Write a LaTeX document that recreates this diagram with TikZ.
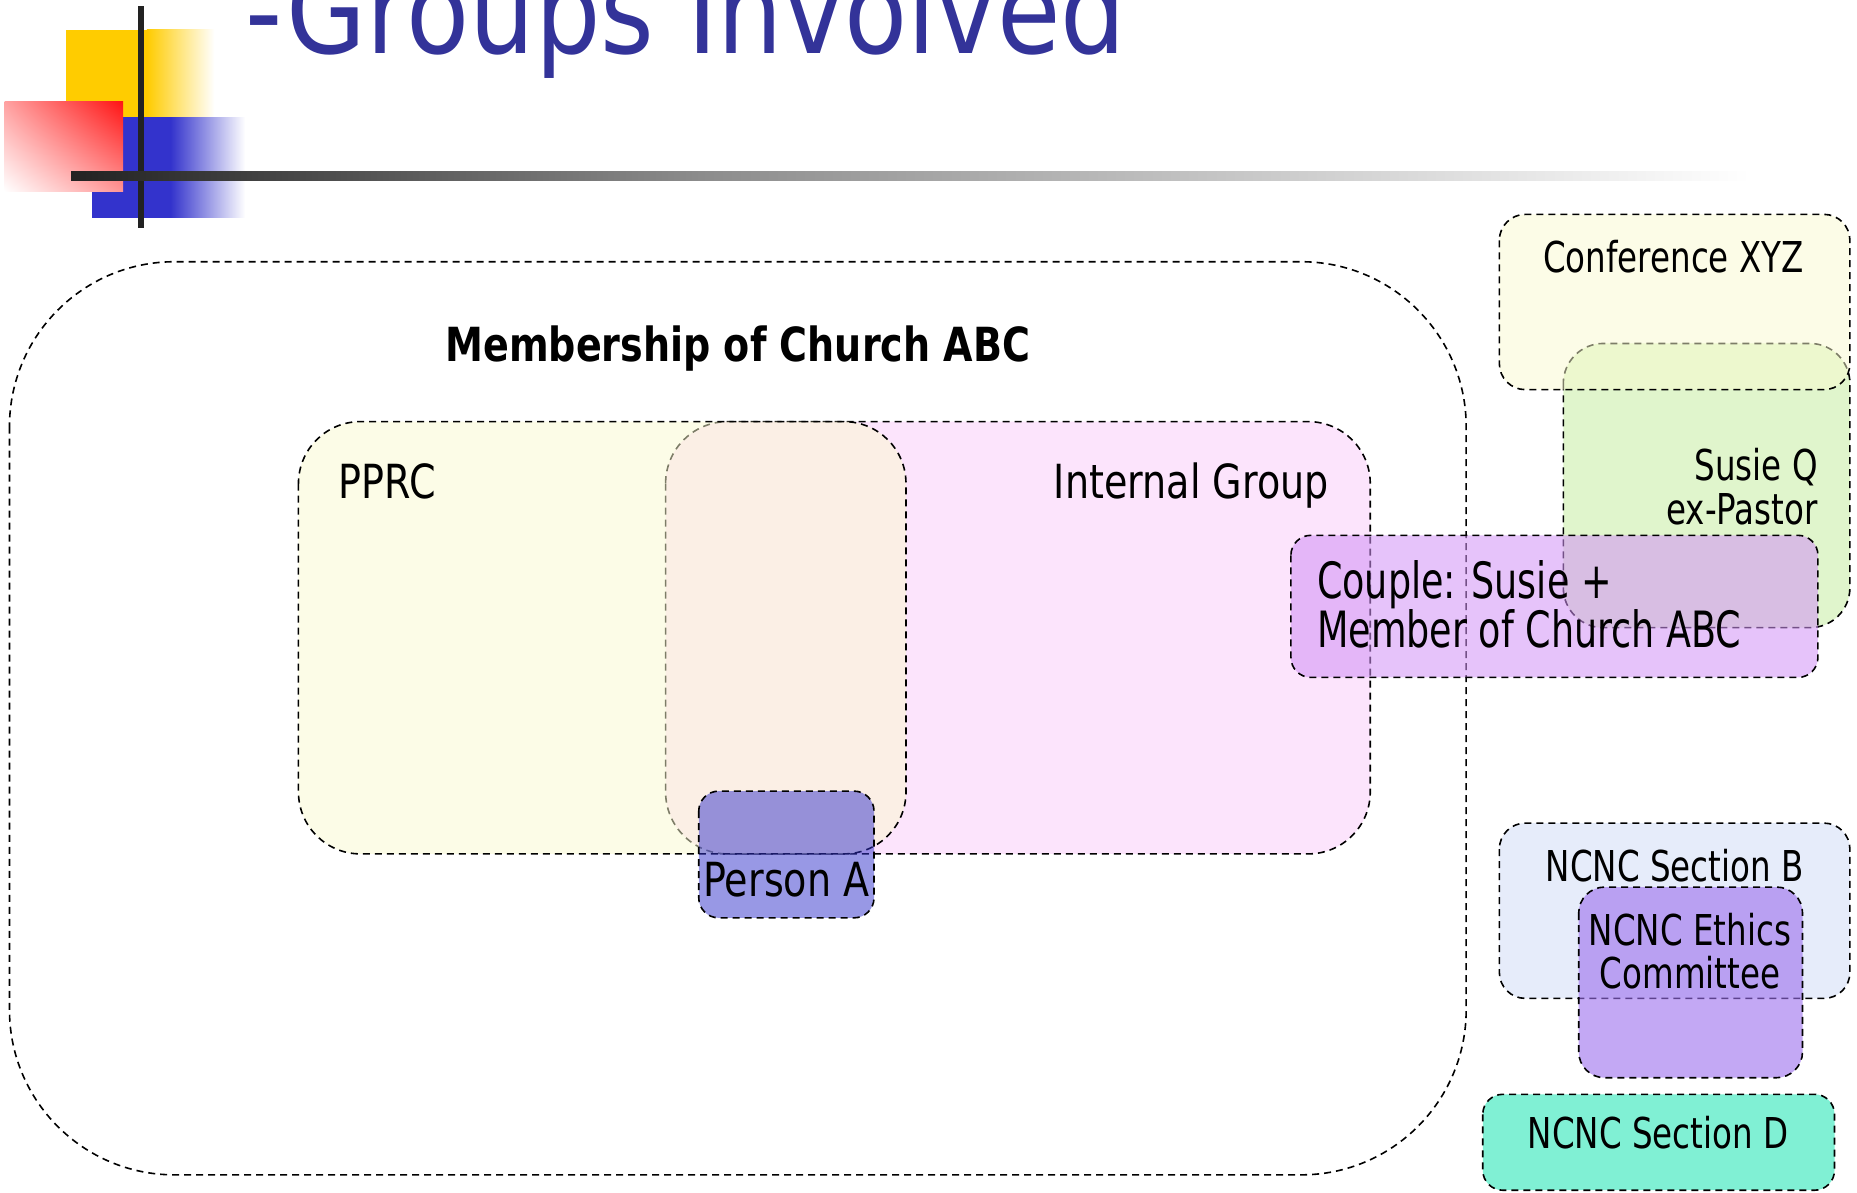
\documentclass[tikz,border=0pt]{standalone}
\usepackage{fontspec}
\usetikzlibrary{shadings}
\setmainfont{DejaVu Sans}[FakeStretch=0.765]
\newfontfamily\titlefont{DejaVu Sans}[FakeStretch=0.86]
\newfontfamily\widefont{DejaVu Sans}[FakeStretch=0.81]
\newfontfamily\couplefont{DejaVu Sans}[FakeStretch=0.73]
\definecolor{titleblue}{RGB}{51,51,153}
\definecolor{logoyellow}{RGB}{255,204,0}
\definecolor{logoblue}{RGB}{51,51,204}
\definecolor{logored}{RGB}{255,20,20}
\definecolor{linedark}{RGB}{34,34,34}
\definecolor{linemid}{RGB}{140,140,140}
\definecolor{pinkC}{RGB}{252,228,252}
\definecolor{pprcC}{RGB}{251,251,208}
\definecolor{personC}{RGB}{51,51,205}
\definecolor{susieC}{RGB}{224,245,204}
\definecolor{coupleC}{RGB}{210,146,246}
\definecolor{bC}{RGB}{230,236,250}
\definecolor{ethicsC}{RGB}{155,110,238}
\definecolor{dC}{RGB}{128,240,212}
\begin{document}
\begin{tikzpicture}[x=1.1843pt,y=-1.1843pt,
  grp/.style={draw=black, dash pattern=on 7pt off 5pt, line width=1.6pt},
  txt/.style={inner sep=0pt, text=black},
  big/.style={txt, font=\widefont\fontsize{47}{56}\selectfont},
  small/.style={txt, font=\fontsize{42.5}{50}\selectfont},
  cpl/.style={txt, font=\couplefont\fontsize{50}{56}\selectfont}]
\useasboundingbox (0,0) rectangle (1568,1007);
\fill[white] (0,0) rectangle (1568,1007);
% logo
\fill[logoyellow] (56,25) rectangle (124,100);
\shade[left color=logoyellow, right color=white] (124,25) rectangle (181,100);
\fill[logoblue] (78,99) rectangle (144,184);
\shade[left color=logoblue, right color=white] (144,99) rectangle (207,184);
\shade[upper right=logored, lower left=white, upper left=logored!40!white, lower right=logored!45!white] (4,86) rectangle (104,162);
\fill[linedark] (116.5,5) rectangle (121.5,192.5);
\shade[left color=linedark, right color=linemid] (60,145.2) rectangle (591,152);
\shade[left color=linemid, right color=white] (591,145.2) rectangle (1478,152);
% title
\node[anchor=base west, inner sep=0pt, text=titleblue, font=\titlefont\fontsize{120}{120}\selectfont] (title) at (207,44.8) {-Groups Involved};
% groups
\draw[grp, rounded corners=165pt] (8,221) rectangle (1238,992);
\draw[grp, fill=pinkC, rounded corners=62pt] (562,356) rectangle (1157,721);
\draw[grp, fill=pprcC, fill opacity=0.5, rounded corners=62pt] (252,356) rectangle (765,721);
\draw[grp, fill=personC, fill opacity=0.5, rounded corners=20pt] (590,668) rectangle (738,775);
\draw[grp, fill=susieC, rounded corners=40pt] (1320,290) rectangle (1562,530);
\draw[grp, fill=pprcC, fill opacity=0.5, rounded corners=26pt] (1266,181) rectangle (1562,329);
\draw[grp, fill=coupleC, fill opacity=0.55, rounded corners=20pt] (1090,452) rectangle (1535,572);
\draw[grp, fill=bC, rounded corners=26pt] (1266,695) rectangle (1562,843);
\draw[grp, fill=ethicsC, fill opacity=0.6, rounded corners=26pt] (1333,749) rectangle (1522,910);
\draw[grp, fill=dC, rounded corners=20pt] (1252,924) rectangle (1549,1005);
% labels
\node[big, anchor=base, font=\widefont\bfseries\fontsize{47}{56}\selectfont] (mem) at (623,305) {Membership of Church ABC};
\node[big, anchor=base west] (pprc) at (286,421) {PPRC};
\node[big, anchor=base east] (internal) at (1122,421) {Internal Group};
\node[big, anchor=base] (persona) at (664,757) {Person A};
\node[cpl, anchor=base west] (couple1) at (1112,505) {Couple: Susie +};
\node[cpl, anchor=base west] (couple2) at (1112,547) {Member of Church ABC};
\node[small, anchor=base] (conf) at (1413,230) {Conference XYZ};
\node[small, anchor=base east] (susie1) at (1535,406) {Susie Q};
\node[small, anchor=base east] (susie2) at (1535,443) {ex-Pastor};
\node[small, anchor=base] (secb) at (1414,744) {NCNC Section B};
\node[small, anchor=base] (eth1) at (1427,798) {NCNC Ethics};
\node[small, anchor=base] (eth2) at (1427,835) {Committee};
\node[small, anchor=base] (secd) at (1400,970) {NCNC Section D};
\end{tikzpicture}
\end{document}
